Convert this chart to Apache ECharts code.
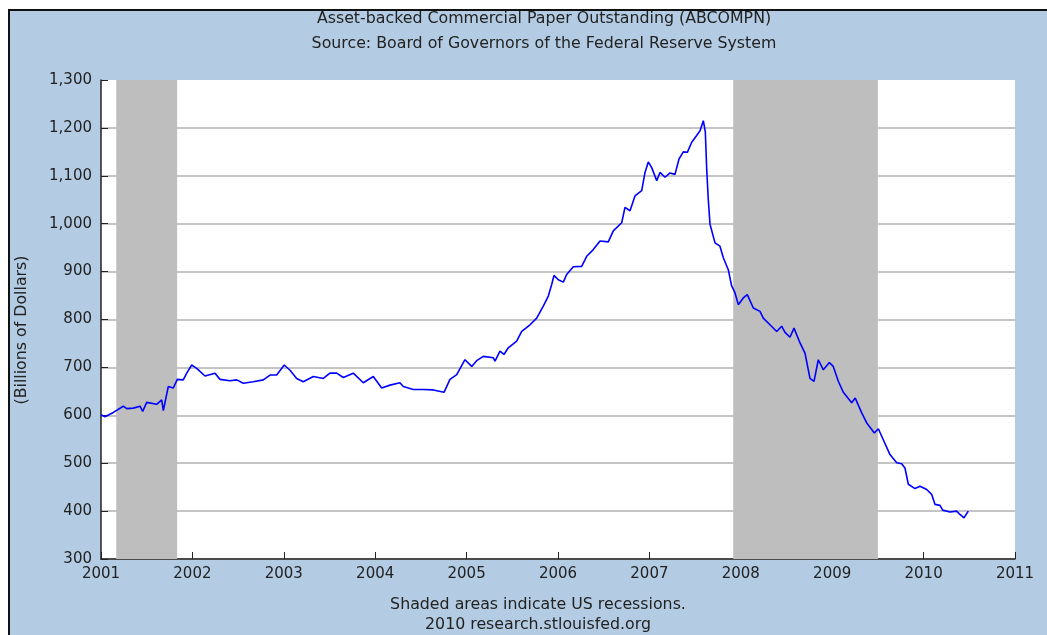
<!DOCTYPE html>
<html>
<head>
<meta charset="utf-8">
<script src="https://cdn.jsdelivr.net/npm/echarts@6/dist/echarts.min.js"></script>
<style>
  html, body { margin: 0; padding: 0; background: #ffffff; }
  #bg { position: absolute; left: 8px; top: 9px; width: 1039px; height: 626px; background: #b3cce3;
        border-left: 2px solid #111; border-top: 2px solid #111; box-sizing: border-box; }
  #chart { position: absolute; left: 0; top: 0; width: 1047px; height: 635px; }
</style>
</head>
<body>
<div id="bg"></div>
<div id="chart"></div>
<script>
// ---- data ----
const titleLines = ['Asset-backed Commercial Paper Outstanding (ABCOMPN)', 'Source: Board of Governors of the Federal Reserve System'];
const footerLines = ['Shaded areas indicate US recessions.', '2010 research.stlouisfed.org'];
const yAxisTitle = '(Billions of Dollars)';
const xTickLabels = ['2001','2002','2003','2004','2005','2006','2007','2008','2009','2010','2011'];
const yTickLabels = ['300','400','500','600','700','800','900','1,000','1,100','1,200','1,300'];
const recessionStarts = [2001.167, 2007.917];
const recessionEnds = [2001.833, 2009.5];
const dates = [
  2001.00, 2001.044, 2001.135, 2001.244, 2001.281, 2001.353, 2001.427, 2001.456, 2001.50, 2001.609,
  2001.664, 2001.682, 2001.736, 2001.791, 2001.835, 2001.90, 2001.938, 2001.992, 2002.047, 2002.138,
  2002.247, 2002.302, 2002.411, 2002.485, 2002.557, 2002.666, 2002.776, 2002.849, 2002.922, 2003.005,
  2003.068, 2003.141, 2003.213, 2003.323, 2003.432, 2003.505, 2003.579, 2003.651, 2003.760, 2003.870,
  2003.979, 2004.071, 2004.162, 2004.271, 2004.307, 2004.417, 2004.526, 2004.636, 2004.753, 2004.818,
  2004.892, 2004.982, 2005.056, 2005.110, 2005.183, 2005.292, 2005.311, 2005.365, 2005.409, 2005.456,
  2005.548, 2005.603, 2005.694, 2005.767, 2005.839, 2005.894, 2005.931, 2005.956, 2006.003, 2006.058,
  2006.095, 2006.167, 2006.259, 2006.314, 2006.386, 2006.460, 2006.550, 2006.605, 2006.697, 2006.733,
  2006.788, 2006.842, 2006.916, 2006.952, 2006.988, 2007.025, 2007.080, 2007.116, 2007.171, 2007.225,
  2007.280, 2007.299, 2007.324, 2007.371, 2007.415, 2007.463, 2007.517, 2007.554, 2007.590, 2007.612,
  2007.627, 2007.644, 2007.663, 2007.718, 2007.772, 2007.809, 2007.863, 2007.900, 2007.936, 2007.973,
  2008.027, 2008.071, 2008.137, 2008.210, 2008.246, 2008.319, 2008.393, 2008.447, 2008.484, 2008.538,
  2008.582, 2008.648, 2008.702, 2008.757, 2008.801, 2008.848, 2008.903, 2008.969, 2009.012, 2009.067,
  2009.122, 2009.213, 2009.252, 2009.323, 2009.378, 2009.461, 2009.505, 2009.559, 2009.632, 2009.706,
  2009.760, 2009.796, 2009.833, 2009.906, 2009.961, 2010.034, 2010.088, 2010.125, 2010.179, 2010.209,
  2010.289, 2010.362, 2010.398, 2010.442, 2010.489
];
const values = [
  601, 597, 606, 619, 614, 615, 619, 608, 627, 623,
  632, 610, 660, 657, 675, 674, 688, 705, 698, 682,
  688, 675, 672, 674, 667, 670, 674, 684, 684, 705,
  694, 677, 670, 681, 677, 688, 688, 679, 688, 668,
  681, 657, 663, 668, 660, 654, 654, 653, 648, 675,
  685, 716, 702, 714, 723, 720, 713, 734, 727, 741,
  755, 775, 789, 803, 828, 849, 873, 892, 883, 878,
  894, 910, 911, 932, 946, 964, 962, 985, 1002, 1034,
  1027, 1058, 1069, 1107, 1129, 1117, 1090, 1107, 1097, 1106,
  1103, 1099, 1135, 1150, 1149, 1170, 1184, 1194, 1215, 1191,
  1114, 1051, 999, 960, 953, 929, 904, 870, 856, 831,
  845, 852, 824, 817, 803, 789, 775, 786, 773, 763,
  782, 751, 730, 677, 671, 716, 695, 710, 702, 671,
  648, 626, 636, 605, 584, 563, 572, 549, 518, 501,
  499, 490, 456, 447, 452, 445, 435, 414, 412, 402,
  398, 400, 393, 386, 400
];

// ---- chart ----
const FONT = 'DejaVu Sans';
const TXT = '#222222';
const BIG = '15.8px "DejaVu Sans"';
const seriesData = dates.map((d, i) => [d, values[i]]);
const recessionAreas = recessionStarts.map((s, i) => [{ xAxis: s }, { xAxis: recessionEnds[i] }]);

const chart = echarts.init(document.getElementById('chart'), null, { renderer: 'canvas' });
chart.setOption({
  animation: false,
  backgroundColor: 'transparent',
  textStyle: { fontFamily: FONT },
  grid: { left: 101, top: 80, width: 914, height: 479, show: true, backgroundColor: '#ffffff', borderWidth: 0 },
  xAxis: {
    type: 'value', min: 2001, max: 2011, interval: 1,
    axisLine: { show: true, lineStyle: { color: '#222', width: 1.5 } },
    axisTick: { show: true, inside: true, length: 7, lineStyle: { color: '#222', width: 1 } },
    axisLabel: { margin: 8, color: TXT, fontSize: 15, fontFamily: FONT,
      formatter: (v) => xTickLabels[Math.round(v - 2001)] },
    splitLine: { show: false }
  },
  yAxis: {
    type: 'value', min: 300, max: 1300, interval: 100,
    axisLine: { show: true, lineStyle: { color: '#222', width: 1.5 } },
    axisTick: { show: true, inside: true, length: 7, lineStyle: { color: '#222', width: 1 } },
    axisLabel: { margin: 9, color: TXT, fontSize: 15, fontFamily: FONT,
      formatter: (v) => yTickLabels[Math.round((v - 300) / 100)] },
    splitLine: { show: true, showMaxLine: false, lineStyle: { color: '#c4c4c4', width: 2 } }
  },
  graphic: [
    { type: 'text', x: 544, y: 19, style: { text: titleLines[0], fill: TXT, font: BIG, textAlign: 'center', textVerticalAlign: 'middle' } },
    { type: 'text', x: 544, y: 44, style: { text: titleLines[1], fill: TXT, font: BIG, textAlign: 'center', textVerticalAlign: 'middle' } },
    { type: 'text', x: 538, y: 605, style: { text: footerLines[0], fill: TXT, font: BIG, textAlign: 'center', textVerticalAlign: 'middle' } },
    { type: 'text', x: 538, y: 625, style: { text: footerLines[1], fill: TXT, font: BIG, textAlign: 'center', textVerticalAlign: 'middle' } },
    { type: 'text', x: 22, y: 330, rotation: Math.PI / 2, style: { text: yAxisTitle, fill: TXT, font: BIG, textAlign: 'center', textVerticalAlign: 'middle' } }
  ],
  series: [{
    type: 'line',
    data: seriesData,
    showSymbol: false,
    symbol: 'none',
    lineStyle: { color: '#0000ff', width: 1.6 },
    z: 3,
    markArea: {
      silent: true,
      itemStyle: { color: '#bebebe', opacity: 1 },
      data: recessionAreas
    }
  }]
});
</script>
</body>
</html>
